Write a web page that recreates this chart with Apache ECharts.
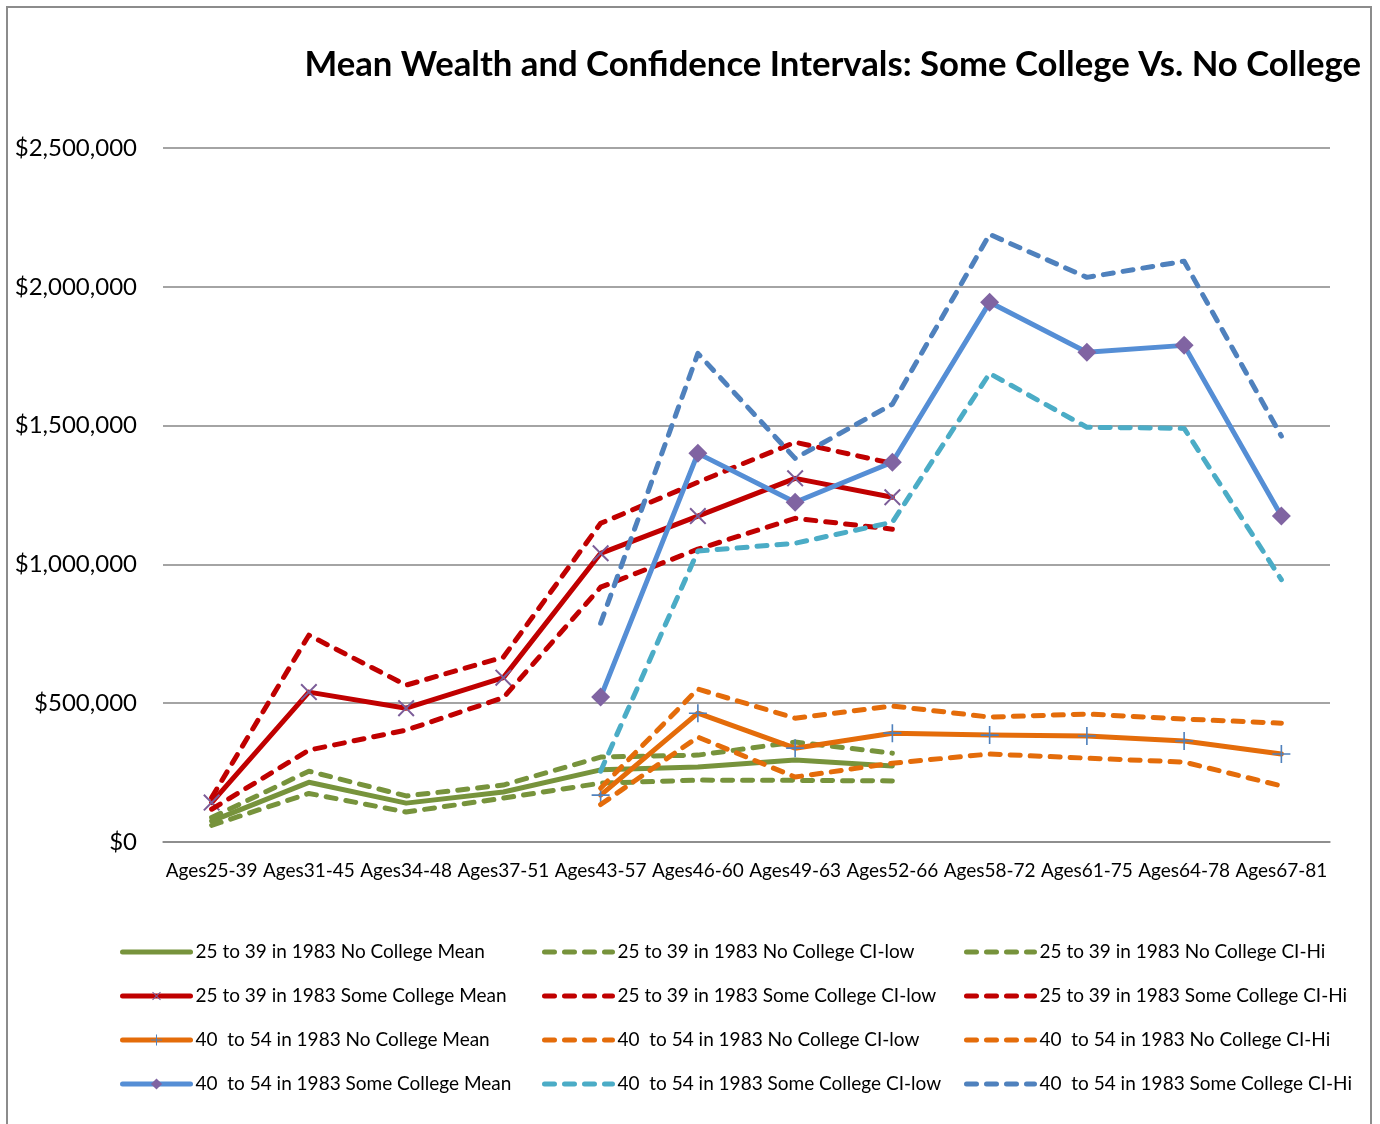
<!DOCTYPE html>
<html>
<head>
<meta charset="utf-8">
<script src="https://cdn.jsdelivr.net/npm/echarts@6/dist/echarts.min.js"></script>
<style>
html,body{margin:0;padding:0;background:#fff;}
#frame{position:absolute;left:6px;top:6px;width:1366px;height:1140px;border:2px solid #8c8c8c;box-sizing:border-box;}
#chart{position:absolute;left:0;top:0;width:1380px;height:1124px;}
</style>
</head>
<body>
<div id="frame"></div>
<div id="chart"></div>
<script>
const categories = ['Ages25-39','Ages31-45','Ages34-48','Ages37-51','Ages43-57','Ages46-60','Ages49-63','Ages52-66','Ages58-72','Ages61-75','Ages64-78','Ages67-81'];
const yTicks = [0, 500000, 1000000, 1500000, 2000000, 2500000];

const ncMean25 = [75000, 215000, 140000, 180000, 260000, 270000, 295000, 274000, '-', '-', '-', '-'];
const ncLow25  = [60000, 175000, 108000, 158000, 212000, 223000, 222000, 220000, '-', '-', '-', '-'];
const ncHi25   = [88000, 255000, 166000, 205000, 306000, 313000, 360000, 320000, '-', '-', '-', '-'];
const scMean25 = [142000, 540000, 482000, 592000, 1040000, 1174000, 1310000, 1242000, '-', '-', '-', '-'];
const scLow25  = [118000, 331000, 403000, 520000, 918000, 1055000, 1166000, 1127000, '-', '-', '-', '-'];
const scHi25   = [160000, 745000, 565000, 666000, 1148000, 1296000, 1440000, 1364000, '-', '-', '-', '-'];
const ncMean40 = ['-', '-', '-', '-', 169000, 464000, 338000, 392000, 385000, 382000, 364000, 317000];
const ncLow40  = ['-', '-', '-', '-', 135000, 378000, 234000, 284000, 317000, 302000, 288000, 202000];
const ncHi40   = ['-', '-', '-', '-', 194000, 551000, 446000, 490000, 450000, 461000, 443000, 428000];
const scMean40 = ['-', '-', '-', '-', 522000, 1400000, 1224000, 1368000, 1944000, 1764000, 1789000, 1174000];
const scLow40  = ['-', '-', '-', '-', 255000, 1048000, 1076000, 1152000, 1688000, 1494000, 1490000, 945000];
const scHi40   = ['-', '-', '-', '-', 788000, 1760000, 1382000, 1577000, 2189000, 2034000, 2092000, 1462000];

const names = [
  '25 to 39 in 1983 No College Mean', '25 to 39 in 1983 No College CI-low', '25 to 39 in 1983 No College CI-Hi',
  '25 to 39 in 1983 Some College Mean', '25 to 39 in 1983 Some College CI-low', '25 to 39 in 1983 Some College CI-Hi',
  '40  to 54 in 1983 No College Mean', '40  to 54 in 1983 No College CI-low', '40  to 54 in 1983 No College CI-Hi',
  '40  to 54 in 1983 Some College Mean', '40  to 54 in 1983 Some College CI-low', '40  to 54 in 1983 Some College CI-Hi'
];
const dataSets = [ncMean25, ncLow25, ncHi25, scMean25, scLow25, scHi25, ncMean40, ncLow40, ncHi40, scMean40, scLow40, scHi40];
const colors = ['#77933C','#77933C','#77933C','#C00000','#C00000','#C00000','#E46C0A','#E46C0A','#E46C0A','#558ED5','#4BACC6','#4F81BD'];

const FONT = 'Lato';
const plusPath = 'path://M9.1,0H10.9V9.1H20V10.9H10.9V20H9.1V10.9H0V9.1H9.1Z';

const markers = {
  3: {symbol: plusPath, rotate: 45, size: 22, color: '#7B5C98'},
  6: {symbol: plusPath, rotate: 0, size: 18, color: '#4F81BD'},
  9: {symbol: 'diamond', rotate: 0, size: 19, color: '#8064A2'}
};

const series = dataSets.map((d, i) => {
  const dashed = (i % 3) !== 0;
  const m = markers[i];
  return {
    name: names[i],
    type: 'line',
    data: d,
    connectNulls: false,
    symbol: m ? m.symbol : 'none',
    symbolSize: m ? m.size : 0,
    symbolRotate: m ? m.rotate : 0,
    showSymbol: !!m,
    itemStyle: {color: m ? m.color : colors[i]},
    lineStyle: {color: colors[i], width: 5, type: dashed ? [10, 10] : 'solid', cap: 'round', join: 'round'},
    emphasis: {disabled: true},
    animation: false,
    z: 2 + i
  };
});

function legendCol(idx, left) {
  return {
    orient: 'vertical',
    left: left,
    top: 937,
    itemWidth: 68,
    itemHeight: 14,
    itemGap: 24,
    selectedMode: false,
    lineStyle: {width: 5, cap: 'round'},
    textStyle: {fontFamily: FONT, fontSize: 19, color: '#000', lineHeight: 20},
    data: [idx, idx + 3, idx + 6, idx + 9].map(k => {
      const item = {name: names[k]};
      if (!markers[k]) item.itemStyle = {color: 'rgba(0,0,0,0)', borderColor: 'rgba(0,0,0,0)', borderWidth: 0, opacity: 0};
      return item;
    })
  };
}

const chart = echarts.init(document.getElementById('chart'), null, {renderer: 'canvas'});
chart.setOption({
  backgroundColor: 'transparent',
  animation: false,
  title: {
    text: 'Mean Wealth and Confidence Intervals: Some College Vs. No College',
    right: 14,
    top: 42,
    textStyle: {fontFamily: FONT, fontWeight: 'bold', fontSize: 34.7, color: '#000'}
  },
  legend: [legendCol(0, 115), legendCol(1, 537), legendCol(2, 959)],
  grid: {left: 163, right: 50, top: 148, bottom: 1124 - 842, containLabel: false},
  xAxis: {
    type: 'category',
    data: categories,
    boundaryGap: true,
    axisTick: {show: false},
    axisLine: {lineStyle: {color: '#868686', width: 1.5}},
    axisLabel: {fontFamily: FONT, fontSize: 19, color: '#000', margin: 19, interval: 0}
  },
  yAxis: {
    type: 'value',
    min: yTicks[0],
    max: yTicks[yTicks.length - 1],
    interval: yTicks[1] - yTicks[0],
    axisLine: {show: false},
    axisTick: {show: false},
    splitLine: {lineStyle: {color: '#868686', width: 1.5}},
    axisLabel: {fontFamily: FONT, fontSize: 24, color: '#000', margin: 26,
      formatter: v => '$' + v.toLocaleString('en-US')}
  },
  series: series
});
</script>
</body>
</html>
